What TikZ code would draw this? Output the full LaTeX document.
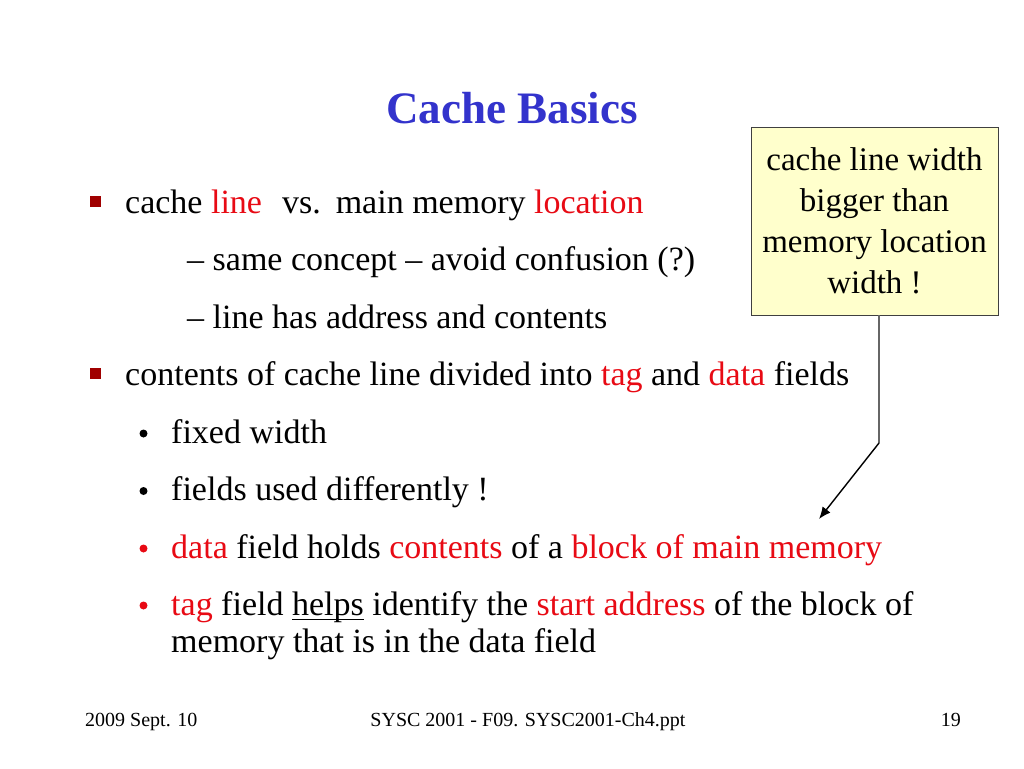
\documentclass[tikz,border=0pt]{standalone}
\usepackage{fontspec}
\setmainfont{Liberation Serif}
\usetikzlibrary{arrows.meta}
\definecolor{ttlblue}{RGB}{51,51,204}
\definecolor{hred}{RGB}{232,10,20}
\definecolor{sqred}{RGB}{160,0,0}
\definecolor{noteyellow}{RGB}{255,255,204}
\newcommand{\hl}[1]{{\color{hred}#1}}
\newcommand{\myul}[1]{\setbox0\hbox{#1}\rlap{\rule[-5pt]{\wd0}{1.5pt}}#1}
\begin{document}
\begin{tikzpicture}[x=1pt,y=-1pt,
  body/.style={anchor=base west, inner sep=0pt, font=\fontsize{34}{40}\selectfont},
  foot/.style={inner sep=0pt, font=\fontsize{20}{24}\selectfont},
  sqbullet/.style={fill=sqred, draw=none, minimum width=11pt, minimum height=10.5pt, inner sep=0pt},
  dotbullet/.style={circle, draw=none, minimum size=8pt, inner sep=0pt},
  notebox/.style={draw=black!75, fill=noteyellow, line width=0.9pt, minimum width=247pt, minimum height=188pt, inner sep=0pt, align=center, font=\fontsize{33}{41}\selectfont}
]
\useasboundingbox (0,0) rectangle (1024,768);
\fill[white] (0,0) rectangle (1024,768);

% title
\node[anchor=base, inner sep=0pt, font=\fontsize{45}{50}\selectfont\bfseries, text=ttlblue] (title) at (512,123) {Cache Basics};

% level 1 and 2 text
\node[sqbullet] (b1) at (95.5,201.5) {};
\node[body] (l1) at (125,213) {cache \hl{line}\hspace{20pt}vs.\hspace{15pt}main memory \hl{location}};
\node[body] (l2) at (187,270.5) {-- same concept -- avoid confusion (?)};
\node[body] (l3) at (187,328) {-- line has address and contents};
\node[sqbullet] (b2) at (95.5,373.5) {};
\node[body] (l4) at (125,385.5) {contents of cache line divided into \hl{tag} and \hl{data} fields};

\node[dotbullet, fill=black] (d1) at (143.5,433.5) {};
\node[body] (l5) at (171,443) {fixed width};
\node[dotbullet, fill=black] (d2) at (143.5,491) {};
\node[body] (l6) at (171,500.5) {fields used differently !};
\node[dotbullet, fill=hred] (d3) at (143.5,548.5) {};
\node[body] (l7) at (171,558) {\hl{data} field holds \hl{contents} of a \hl{block of main memory}};
\node[dotbullet, fill=hred] (d4) at (143.5,605.5) {};
\node[body] (l8) at (171,615) {\hl{tag} field \myul{helps} identify the \hl{start address} of the block of};
\node[body] (l9) at (171,652) {memory that is in the data field};

% callout
\node[notebox] (note) at (874.5,221) {cache line width\hspace{6pt}\\bigger than\\memory location\\width !};
\coordinate (bend) at (879,443);
\coordinate (tip) at (819,519);
\draw[black!60, line width=1.3pt] (note.south -| bend) -- (bend);
\draw[black, line width=1.4pt, -{Latex[length=12pt,width=10pt]}] (bend) -- (tip);

% footer
\node[foot, anchor=base west] (f1) at (85,726) {2009 Sept. 10};
\node[foot, anchor=base] (f2) at (528,726) {SYSC 2001 - F09. SYSC2001-Ch4.ppt};
\node[foot, anchor=base east] (f3) at (961,726) {19};
\end{tikzpicture}
\end{document}
